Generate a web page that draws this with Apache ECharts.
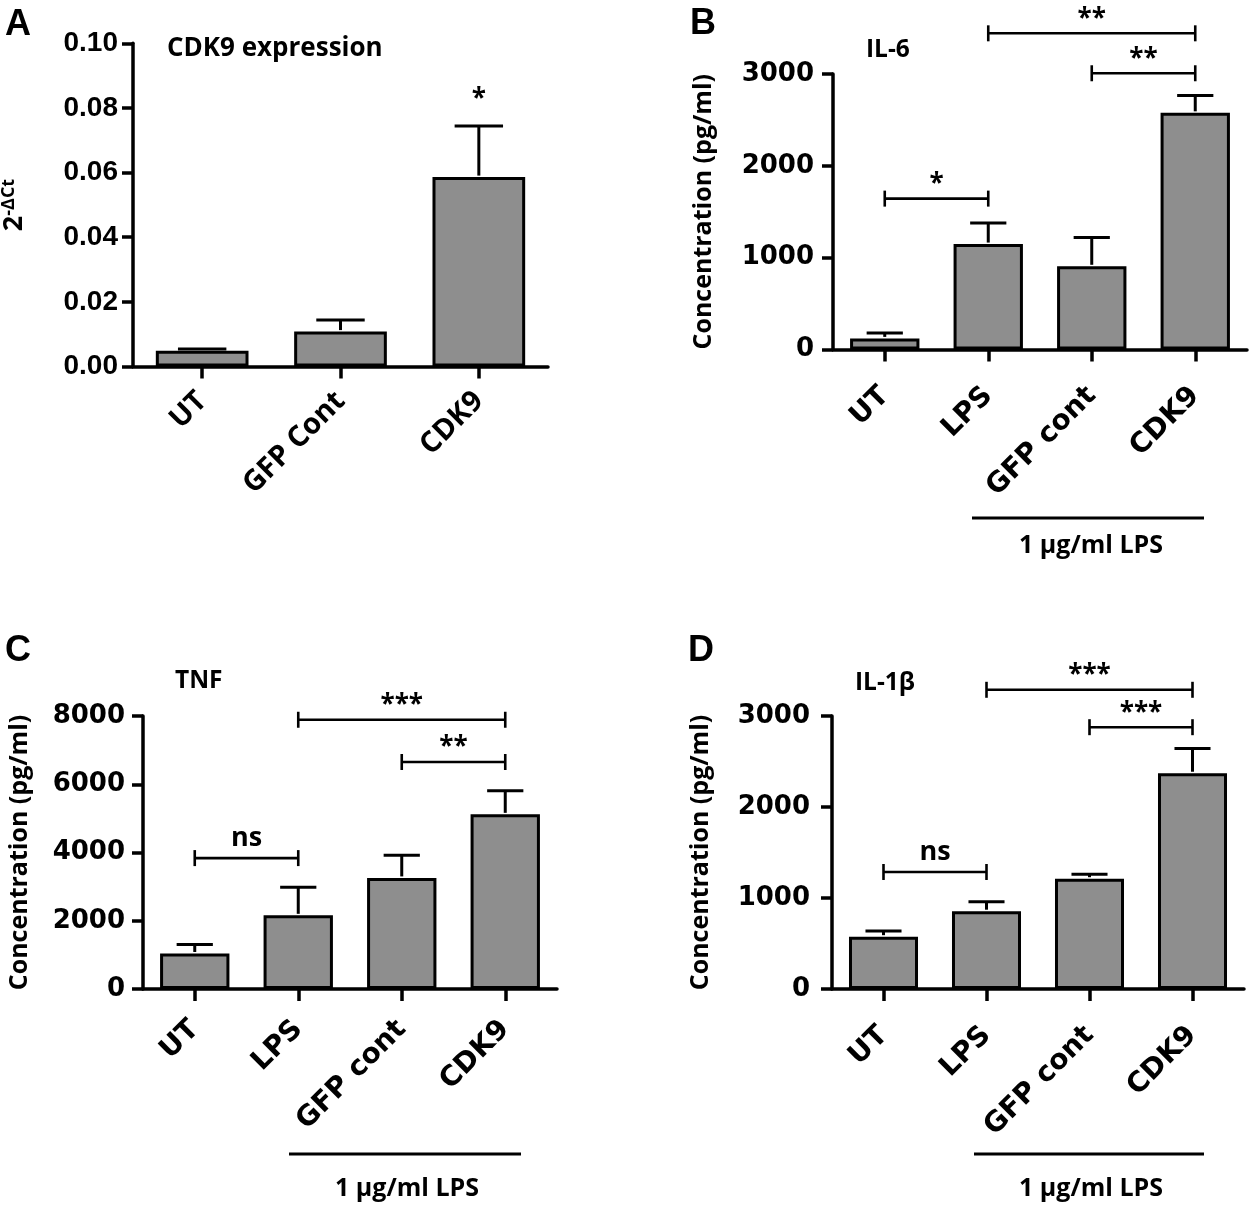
<!DOCTYPE html>
<html>
<head>
<meta charset="utf-8">
<script src="https://cdn.jsdelivr.net/npm/echarts@6/dist/echarts.min.js"></script>
<style>
html,body{margin:0;padding:0;background:#fff;}
#chart{width:1250px;height:1208px;}
</style>
</head>
<body>
<div id="chart"></div>
<script>
// ---------- data ----------
const catsA = ['UT', 'GFP Cont', 'CDK9'];
const meanA = [0.0049, 0.0108, 0.0586];
const errA = [0.0054, 0.0144, 0.0744];
const ticksA = ['0.00', '0.02', '0.04', '0.06', '0.08', '0.10'];
const sigA = [[2, 2, 0.0845, '*']];

const catsBCD = ['UT', 'LPS', 'GFP cont', 'CDK9'];

const meanB = [121, 1148, 906, 2577];
const errB = [181, 1377, 1220, 2766];
const ticksB = ['0', '1000', '2000', '3000'];
const sigB = [[0, 1, 1643, '*'], [2, 3, 3008, '**'], [1, 3, 3443, '**']];

const meanC = [1041, 2159, 3255, 5118];
const errC = [1304, 2981, 3923, 5808];
const ticksC = ['0', '2000', '4000', '6000', '8000'];
const sigC = [[0, 1, 3836, 'ns'], [2, 3, 6652, '**'], [1, 3, 7890, '***']];

const meanD = [575, 855, 1212, 2371];
const errD = [637, 958, 1262, 2642];
const ticksD = ['0', '1000', '2000', '3000'];
const sigD = [[0, 1, 1286, 'ns'], [2, 3, 2877, '***'], [1, 3, 3288, '***']];

const titles = ['CDK9 expression', 'IL-6', 'TNF', 'IL-1β'];
const letters = ['A', 'B', 'C', 'D'];
const yNameA = '{a|2}{b|-ΔCt}';
const yNameBCD = 'Concentration (pg/ml)';
const lpsNote = '1 µg/ml LPS';

// ---------- styles ----------
const BLACK = '#000';
const GRAY = '#8e8e8e';
const OS = '"Open Sans", "Noto Sans", sans-serif';
const AR = '"Liberation Sans", Arial, sans-serif';
const DV = '"DejaVu Sans", sans-serif';

const grids = [
  { left: 133, top: 43.3, width: 415, height: 323.2 },
  { left: 833, top: 74, width: 414, height: 275.5 },
  { left: 143, top: 716, width: 414, height: 273 },
  { left: 832, top: 716, width: 412, height: 273 }
].map(g => Object.assign({ containLabel: false, outerBoundsMode: 'none' }, g));

function xAxis(idx, cats, font, size, margin) {
  return {
    gridIndex: idx, type: 'category', data: cats,
    axisLine: { show: true, lineStyle: { color: BLACK, width: 3.5 } },
    axisTick: { show: true, alignWithLabel: true, length: 12, lineStyle: { color: BLACK, width: 3.5 } },
    axisLabel: { interval: 0, rotate: 45, margin: margin, color: BLACK, fontFamily: font, fontWeight: 'bold', fontSize: size },
    splitLine: { show: false }
  };
}

function yAxis(idx, max, interval, ticks, font, size, margin, name, nameGap, nameStyle) {
  return {
    gridIndex: idx, type: 'value', min: 0, max: max, interval: interval,
    axisLine: { show: true, lineStyle: { color: BLACK, width: 3.5 } },
    axisTick: { show: true, length: 11, lineStyle: { color: BLACK, width: 3.5 } },
    splitLine: { show: false },
    axisLabel: { formatter: (v, i) => ticks[i], color: BLACK, fontFamily: font, fontWeight: 'bold', fontSize: size, margin: margin },
    name: name, nameLocation: 'middle', nameRotate: 90, nameGap: nameGap,
    nameTextStyle: nameStyle
  };
}

function barSeries(idx, vals) {
  return {
    type: 'bar', xAxisIndex: idx, yAxisIndex: idx, data: vals, barWidth: '67%',
    itemStyle: { color: GRAY, borderColor: BLACK, borderWidth: 3 },
    silent: true, z: 2
  };
}

function errSeries(idx, mean, err) {
  return {
    type: 'custom', xAxisIndex: idx, yAxisIndex: idx, z: 3, silent: true, clip: false,
    data: mean.map((m, i) => [i, m, err[i]]),
    encode: { x: 0, y: [1, 2] },
    renderItem: function (params, api) {
      const x = api.value(0);
      const p0 = api.coord([x, api.value(1)]);
      const p1 = api.coord([x, api.value(2)]);
      const half = api.size([1, 0])[0] * 0.175;
      const st = { stroke: BLACK, lineWidth: 3 };
      return {
        type: 'group', children: [
          { type: 'line', shape: { x1: p0[0], y1: p0[1] - 1.5, x2: p1[0], y2: p1[1] }, style: st },
          { type: 'line', shape: { x1: p1[0] - half, y1: p1[1], x2: p1[0] + half, y2: p1[1] }, style: st }
        ]
      };
    }
  };
}

function sigSeries(idx, sig) {
  return {
    type: 'custom', xAxisIndex: idx, yAxisIndex: idx, z: 4, silent: true, clip: false,
    data: sig,
    encode: { x: [0, 1], y: 2 },
    renderItem: function (params, api) {
      const a = api.value(0), b = api.value(1), v = api.value(2);
      const lab = sig[params.dataIndex][3];
      const p0 = api.coord([a, v]);
      const p1 = api.coord([b, v]);
      const mid = (p0[0] + p1[0]) / 2;
      const children = [];
      let ty;
      if (a === b) {
        ty = p0[1] + 6;
      } else {
        const st = { stroke: BLACK, lineWidth: 2.6 };
        children.push({ type: 'line', shape: { x1: p0[0], y1: p0[1], x2: p1[0], y2: p1[1] }, style: st });
        children.push({ type: 'line', shape: { x1: p0[0], y1: p0[1] - 8, x2: p0[0], y2: p0[1] + 8 }, style: st });
        children.push({ type: 'line', shape: { x1: p1[0], y1: p1[1] - 8, x2: p1[0], y2: p1[1] + 8 }, style: st });
        ty = p0[1] - (lab === 'ns' ? 20 : 14);
      }
      children.push({
        type: 'text', x: mid, y: ty,
        style: { text: lab, fill: BLACK, font: 'bold ' + (lab === 'ns' ? 27 : 26) + 'px ' + OS, align: 'center', verticalAlign: 'middle' }
      });
      return { type: 'group', children: children };
    }
  };
}

const nameStyleBCD = { color: BLACK, fontFamily: OS, fontWeight: 'bold', fontSize: 25 };

function textEl(t, x, y, font, align) {
  return { type: 'text', x: x, y: y, silent: true, style: { text: t, font: font, fill: BLACK, align: align || 'left', verticalAlign: 'middle' } };
}
function lineEl(x1, x2, y) {
  return { type: 'line', silent: true, shape: { x1: x1, y1: y, x2: x2, y2: y }, style: { stroke: BLACK, lineWidth: 3 } };
}

const option = {
  backgroundColor: '#fff',
  animation: false,
  grid: grids,
  xAxis: [
    xAxis(0, catsA, OS, 29, 30),
    xAxis(1, catsBCD, DV, 28, 42),
    xAxis(2, catsBCD, DV, 28, 36),
    xAxis(3, catsBCD, DV, 28, 42)
  ],
  yAxis: [
    yAxis(0, 0.1, 0.02, ticksA, AR, 28, 15, '', 100, {}),
    yAxis(1, 3000, 1000, ticksB, DV, 26, 19, yNameBCD, 117, nameStyleBCD),
    yAxis(2, 8000, 2000, ticksC, DV, 26, 18, yNameBCD, 111, nameStyleBCD),
    yAxis(3, 3000, 1000, ticksD, DV, 26, 22, yNameBCD, 119, nameStyleBCD)
  ],
  series: [
    barSeries(0, meanA), errSeries(0, meanA, errA), sigSeries(0, sigA),
    barSeries(1, meanB), errSeries(1, meanB, errB), sigSeries(1, sigB),
    barSeries(2, meanC), errSeries(2, meanC, errC), sigSeries(2, sigC),
    barSeries(3, meanD), errSeries(3, meanD, errD), sigSeries(3, sigD)
  ],
  graphic: [
    textEl(letters[0], 5, 25, 'bold 36px ' + AR),
    textEl(letters[1], 690, 24, 'bold 36px ' + AR),
    textEl(letters[2], 5, 651, 'bold 36px ' + AR),
    textEl(letters[3], 688, 651, 'bold 36px ' + AR),
    textEl(titles[0], 167, 49, 'bold 26px ' + OS),
    textEl(titles[1], 866, 50, 'bold 24.5px ' + OS),
    textEl(titles[2], 175, 681, 'bold 24.5px ' + OS),
    textEl(titles[3], 855, 683, 'bold 24.5px ' + OS),
    {
      type: 'text', x: 14, y: 205, rotation: Math.PI / 2, silent: true,
      style: {
        text: yNameA, align: 'center', verticalAlign: 'middle', fill: BLACK,
        font: 'bold 26px ' + OS,
        rich: {
          a: { font: 'bold 27px ' + OS, fill: BLACK, lineHeight: 28 },
          b: { font: 'bold 18px ' + OS, fill: BLACK, verticalAlign: 'top', lineHeight: 28 }
        }
      }
    },
    lineEl(972, 1204, 518),
    lineEl(289, 521, 1154),
    lineEl(974, 1204, 1154),
    textEl(lpsNote, 1091, 546, 'bold 25px ' + OS, 'center'),
    textEl(lpsNote, 407, 1189, 'bold 25px ' + OS, 'center'),
    textEl(lpsNote, 1091, 1189, 'bold 25px ' + OS, 'center')
  ]
};

const chart = echarts.init(document.getElementById('chart'), null, { renderer: 'canvas' });
chart.setOption(option);
</script>
</body>
</html>
